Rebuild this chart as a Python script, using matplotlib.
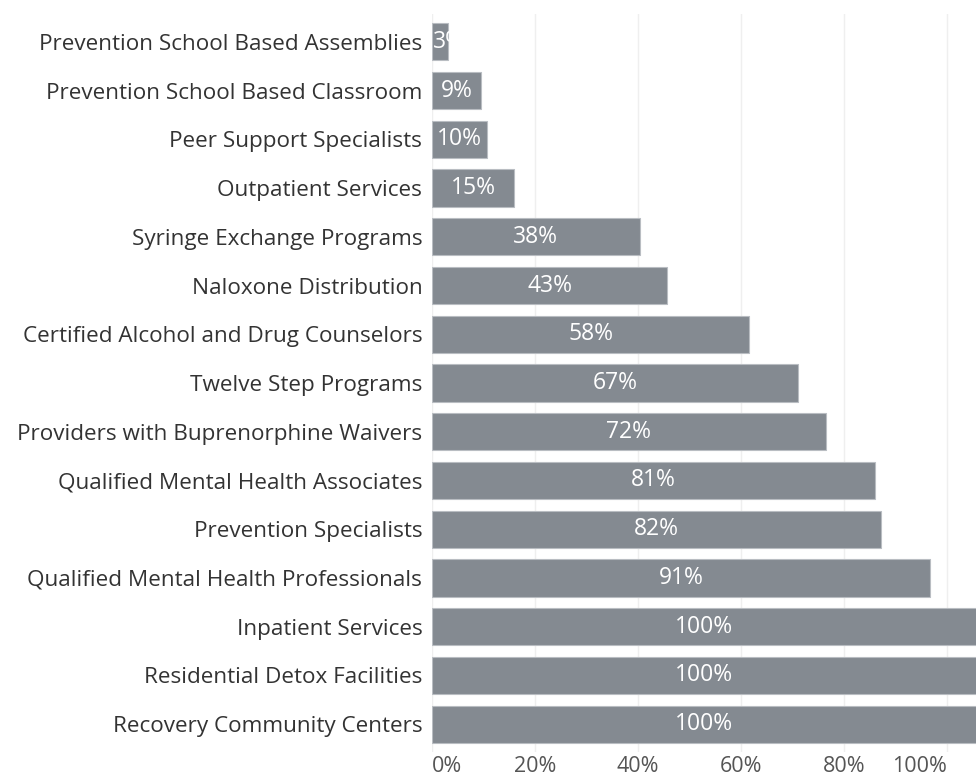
import matplotlib.pyplot as plt

categories = [
    "Prevention School Based Assemblies",
    "Prevention School Based Classroom",
    "Peer Support Specialists",
    "Outpatient Services",
    "Syringe Exchange Programs",
    "Naloxone Distribution",
    "Certified Alcohol and Drug Counselors",
    "Twelve Step Programs",
    "Providers with Buprenorphine Waivers",
    "Qualified Mental Health Associates",
    "Prevention Specialists",
    "Qualified Mental Health Professionals",
    "Inpatient Services",
    "Residential Detox Facilities",
    "Recovery Community Centers",
]
values = [3, 9, 10, 15, 38, 43, 58, 67, 72, 81, 82, 91, 100, 100, 100]
tick_values = [0, 20, 40, 60, 80, 100]
tick_labels = ["0%", "20%", "40%", "60%", "80%", "100%"]

plt.rcParams['font.family'] = ['Open Sans', 'DejaVu Sans']

W, H = 976, 782
fig = plt.figure(figsize=(W / 100, H / 100), dpi=100)

# axes area in pixels
left, right, top, bottom = 432, 976, 14, 752
ax = fig.add_axes([left / W, 1 - bottom / H, (right - left) / W, (bottom - top) / H])

bar_color = "#848a91"
n = len(categories)
ypos = list(range(n))
ax.set_ylim(n - 0.43, -0.57)
ax.set_xlim(0, (right - left) / 5.47)

# gridlines on separate scale (as in the reference)
ax2 = ax.twiny()
ax2.set_xlim(0, (right - left) / 5.15)
ax2.set_xticks(tick_values)
ax2.grid(axis='x', color='#efefef', linewidth=1)
ax2.set_zorder(0)
ax.set_zorder(1)
ax.patch.set_visible(False)
ax2.xaxis.set_ticks_position('bottom')
ax2.xaxis.set_label_position('bottom')
ax2.tick_params(axis='x', length=0, labelsize=15.5, colors='#555555', pad=3)
ax2.set_xticklabels(tick_labels)
lbls = ax2.get_xticklabels()
lbls[0].set_ha('left')
lbls[-1].set_ha('right')
for s in ax2.spines.values():
    s.set_visible(False)

bars = ax.barh(ypos, values, height=0.76, color=bar_color, edgecolor='#b9bdc2', linewidth=0.8)

ax.set_yticks(ypos)
ax.set_yticklabels(categories, fontsize=16.2, color='#333333')
ax.tick_params(axis='y', length=0, pad=7)
ax.set_xticks([])
for s in ax.spines.values():
    s.set_visible(False)

xmax = ax.get_xlim()[1]
for b, v, y in zip(bars, values, ypos):
    end = min(v, xmax)
    if v < 6:
        t = ax.text(0.2, y, f"{v}%", ha='left', va='center', color='white', fontsize=16.5)
        t.set_clip_path(b)
    else:
        ax.text(end / 2, y, f"{v}%", ha='center', va='center', color='white', fontsize=16.5)

fig.savefig("out.png", dpi=100)
